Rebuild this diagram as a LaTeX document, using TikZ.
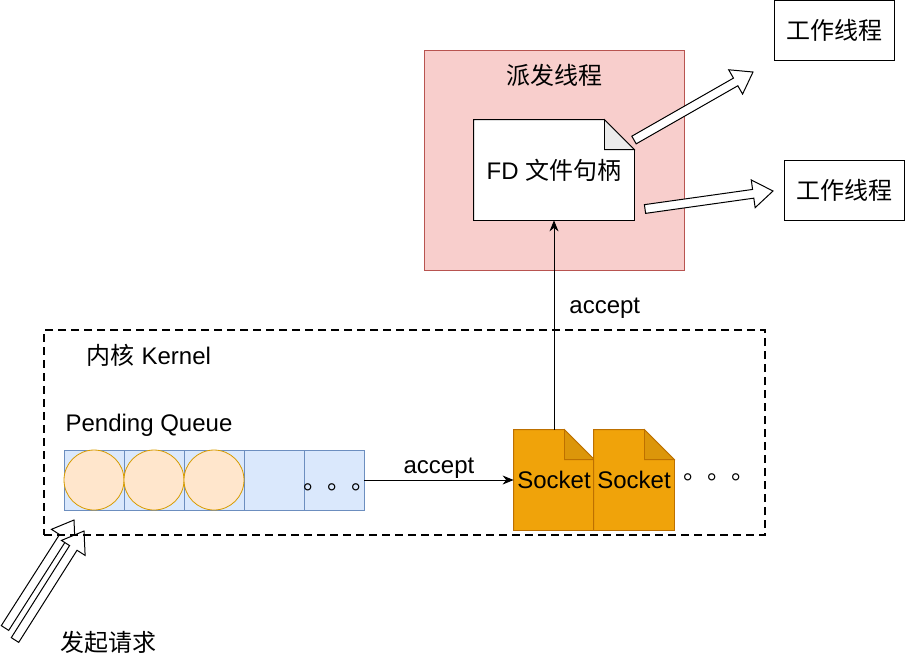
\documentclass[tikz,border=0pt]{standalone}
\usepackage{fontspec}
\setmainfont{Liberation Sans}
\newfontfamily\cjk{Noto Sans CJK SC}
\usetikzlibrary{calc,arrows.meta}
\pgfdeclarelayer{front}
\pgfsetlayers{main,front}
\definecolor{redfill}{HTML}{F8CECC}
\definecolor{redline}{HTML}{B85450}
\definecolor{bluefill}{HTML}{DAE8FC}
\definecolor{blueline}{HTML}{6C8EBF}
\definecolor{orfill}{HTML}{FFE6CC}
\definecolor{orline}{HTML}{D79B00}
\definecolor{sockfill}{HTML}{F0A30A}
\definecolor{sockline}{HTML}{BD7000}
\definecolor{sockfold}{HTML}{DC960A}
\definecolor{foldgray}{HTML}{EBEBEB}
\newcommand\notefold[4]{%
  \path[fill=#2, draw=#3] (#1.north west) -- ([xshift=-15pt]#1.north east) -- ([yshift=-15pt]#1.north east) -- (#1.south east) -- (#1.south west) -- cycle;
  \path[fill=#4, draw=#3] ([xshift=-15pt]#1.north east) -- ([xshift=-15pt,yshift=-15pt]#1.north east) -- ([yshift=-15pt]#1.north east) -- cycle;}
\newcommand\hollowarrow[2]{%
  \coordinate (hb) at ($(#2)!10pt!(#1)$);
  \draw[hollow] ($(#1)!2.2pt!90:(#2)$) -- ($(hb)!2.2pt!-90:(#1)$) -- ($(hb)!7pt!-90:(#1)$) -- (#2)
    -- ($(hb)!7pt!90:(#1)$) -- ($(hb)!2.2pt!90:(#1)$) -- ($(#1)!2.2pt!-90:(#2)$) -- cycle;}
\begin{document}
\begin{tikzpicture}[x=0.5pt,y=-0.5pt, font=\fontsize{12}{14}\selectfont, line width=0.5pt,
  lbl/.style={inner sep=0pt},
  worker/.style={draw, minimum width=60pt, minimum height=30pt, inner sep=0pt},
  cell/.style={draw=blueline, fill=bluefill, minimum size=30pt, inner sep=0pt},
  ball/.style={circle, draw=orline, fill=orfill, minimum size=30pt, inner sep=0pt},
  notebox/.style={minimum width=80pt, minimum height=50pt, inner sep=0pt},
  sock/.style={minimum width=40pt, minimum height=50pt, inner sep=0pt},
  hollow/.style={draw, fill=white, line width=0.5pt, line join=miter},
  conn/.style={-{Stealth[length=5.5pt,width=4.5pt]}},
]
\useasboundingbox (0,0) rectangle (905,661);

% workers
\node[worker] (w1) at (834,30) {\cjk 工作线程};
\node[worker] (w2) at (844,190) {\cjk 工作线程};

% dispatcher
\node[draw=redline, fill=redfill, minimum width=130pt, minimum height=110pt, inner sep=0pt] (disp) at (554,160) {};
\node[lbl] (dtitle) at (554,75) {\cjk 派发线程};
\begin{pgfonlayer}{front}
\node[notebox] (fd) at (554,170) {FD {\cjk 文件句柄}};
\end{pgfonlayer}
\notefold{fd}{white}{black}{foldgray}

% hollow arrows
\coordinate (a1t) at (634,140); \coordinate (a1h) at (753,72);
\coordinate (a2t) at (645,209); \coordinate (a2h) at (773,191);
\hollowarrow{a1t}{a1h}
\hollowarrow{a2t}{a2h}

\coordinate (b1t) at (5,628); \coordinate (b1h) at (74,520);
\coordinate (b2t) at (15,640); \coordinate (b2h) at (84,531);
\hollowarrow{b1t}{b1h}
\hollowarrow{b2t}{b2h}

% kernel
\node[draw, line width=1pt, dash pattern=on 4pt off 2.5pt, minimum width=360.5pt, minimum height=102.5pt, inner sep=0pt] (kern) at (404.5,432.5) {};
\node[lbl] (ktitle) at (149,355) {{\cjk 内核} Kernel};
\node[lbl] (pq) at (149,425) {Pending Queue};

% queue
\node[cell] (q1) at (94,480) {};
\node[cell] (q2) at (154,480) {};
\node[cell] (q3) at (214,480) {};
\node[cell] (q4) at (274,480) {};
\node[cell] (q5) at (334,480) {};
\node[ball] (c1) at (94,480) {};
\node[ball] (c2) at (154,480) {};
\node[ball] (c3) at (214,480) {};
\node[lbl, anchor=base west] (dots1) at (303,489) {\cjk 。。。};

% sockets
\begin{pgfonlayer}{front}
\node[sock] (s1) at (554,480) {Socket};
\node[sock] (s2) at (634,480) {Socket};
\end{pgfonlayer}
\notefold{s1}{sockfill}{sockline}{sockfold}
\notefold{s2}{sockfill}{sockline}{sockfold}
\node[lbl, anchor=base west] (dots2) at (683,479) {\cjk 。。。};

% connectors
\draw[conn] (q5.east) -- (s1.west) node[midway, lbl, yshift=6pt] {accept};
\draw[conn] (s1.north) -- (fd.south) node[pos=0.58, lbl, anchor=west, xshift=7.5pt] {accept};

\node[lbl] (req) at (108,642) {\cjk 发起请求};
\end{tikzpicture}
\end{document}
